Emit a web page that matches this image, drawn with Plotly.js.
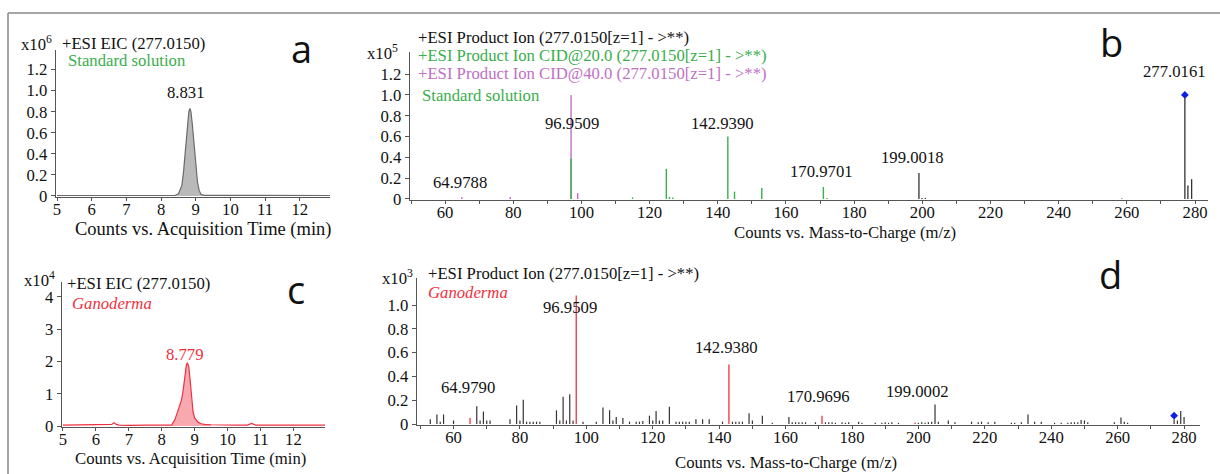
<!DOCTYPE html>
<html>
<head>
<meta charset="utf-8">
<script src="https://cdn.plot.ly/plotly-3.0.1.min.js"></script>
<style>html,body{margin:0;padding:0;background:#fff;}#chart{width:1220px;height:474px;}</style>
</head>
<body>
<div id="chart"></div>
<script>
// ---------- DATA ----------
// Panel a: EIC, standard solution (x10^6 counts)
const timeA = [5, 8.4, 8.5, 8.6, 8.65, 8.7, 8.75, 8.8, 8.831, 8.86, 8.9, 8.95, 9.0, 9.05, 9.1, 9.15, 9.25, 12.9];
const intA  = [0.004, 0.004, 0.02, 0.1, 0.24, 0.43, 0.64, 0.8, 0.83, 0.8, 0.68, 0.48, 0.27, 0.13, 0.05, 0.015, 0.005, 0.004];

// Panel c: EIC, Ganoderma (x10^4 counts)
const timeC = [5, 5.5, 6, 6.4, 6.48, 6.55, 6.62, 6.7, 7, 7.5, 8, 8.3, 8.4, 8.5, 8.6, 8.65, 8.7, 8.75, 8.779, 8.82, 8.86, 8.9, 8.95, 9.0, 9.05, 9.1, 9.2, 9.3, 9.5, 9.8, 10.3, 10.6, 10.73, 10.85, 11, 11.5, 12, 12.96];
const intC  = [0.03, 0.03, 0.035, 0.03, 0.05, 0.1, 0.05, 0.03, 0.02, 0.03, 0.03, 0.03, 0.2, 0.5, 0.8, 1.1, 1.55, 1.9, 1.96, 1.85, 1.45, 0.9, 0.45, 0.25, 0.17, 0.12, 0.07, 0.05, 0.04, 0.03, 0.03, 0.03, 0.08, 0.03, 0.03, 0.03, 0.03, 0.03];

// Panel b: product ion spectra, standard solution (x10^5 counts)
const mzB_cid40  = [64.9, 79.1, 96.9509, 98.9];
const intB_cid40 = [0.02, 0.02, 1.0, 0.055];
const mzB_cid20  = [96.9509, 115.0, 124.9, 125.8, 126.8, 142.939, 144.9, 152.9, 170.9701, 172.0];
const intB_cid20 = [0.39, 0.015, 0.29, 0.02, 0.015, 0.6, 0.07, 0.105, 0.115, 0.01];
const mzB_all    = [199.0018, 199.9, 200.9, 258.5, 277.0161, 277.9, 279.0];
const intB_all   = [0.25, 0.01, 0.01, 0.005, 1.0, 0.13, 0.19];
const precursorB = {mz: [277.0161], int: [1.0]};

// Panel d: product ion spectrum, Ganoderma (x10^3 counts)
const mzD_black  = [53, 55, 56, 57, 60, 67, 68, 69, 70, 71, 77, 79, 80, 81, 82, 83, 84, 85, 86, 91, 92, 93, 94, 95, 96, 99, 103, 105, 107, 108, 109, 111, 113, 115, 116, 117, 119, 120, 121, 122, 123, 125, 127, 128, 129, 130, 131, 133, 135, 137, 141, 144, 145, 146, 147, 149, 150, 153, 156,
                    161, 162, 163, 164, 165, 166, 169, 172, 173, 174, 175, 177, 178, 179, 182, 183, 187, 189, 190, 191, 192, 194, 200, 201, 202, 203, 204, 205, 206, 209, 211, 216, 218, 219, 221, 223, 228, 229, 231, 233, 235, 237, 241, 243, 245, 246, 247, 248, 249, 250, 251, 259, 261, 262, 263, 277, 278, 279, 280];
const intD_black = [0.04, 0.08, 0.02, 0.08, 0.03, 0.15, 0.03, 0.105, 0.03, 0.03, 0.04, 0.155, 0.03, 0.205, 0.02, 0.02, 0.02, 0.02, 0.02, 0.115, 0.03, 0.23, 0.03, 0.25, 0.03, 0.02, 0.02, 0.14, 0.115, 0.03, 0.06, 0.05, 0.02, 0.02, 0.02, 0.025, 0.07, 0.03, 0.11, 0.03, 0.03, 0.145, 0.02, 0.02, 0.02, 0.02, 0.02, 0.04, 0.04, 0.04, 0.02, 0.02, 0.02, 0.02, 0.02, 0.09, 0.03, 0.07, 0.01,
                    0.06, 0.015, 0.015, 0.015, 0.015, 0.015, 0.015, 0.015, 0.015, 0.015, 0.01, 0.015, 0.01, 0.015, 0.02, 0.01, 0.01, 0.01, 0.015, 0.01, 0.015, 0.01, 0.01, 0.015, 0.01, 0.015, 0.02, 0.165, 0.02, 0.03, 0.015, 0.02, 0.015, 0.02, 0.015, 0.02, 0.01, 0.01, 0.015, 0.08, 0.02, 0.02, 0.01, 0.01, 0.01, 0.015, 0.015, 0.015, 0.035, 0.03, 0.015, 0.015, 0.055, 0.02, 0.01, 0.04, 0.03, 0.11, 0.06];
const mzD_red    = [64.979, 96.9509, 142.938, 170.9696, 199.0002];
const intD_red   = [0.05, 1.08, 0.5, 0.07, 0.012];
const precursorD = {mz: [277.0], int: [0.07]};

// Tick labels
const timeTicks = [5, 6, 7, 8, 9, 10, 11, 12];
const timeTickText = ['5', '6', '7', '8', '9', '10', '11', '12'];
const mzTicks = [60, 80, 100, 120, 140, 160, 180, 200, 220, 240, 260, 280];
const mzTickText = ['60', '80', '100', '120', '140', '160', '180', '200', '220', '240', '260', '280'];
const mzMinorTicks = [50, 70, 90, 110, 130, 150, 170, 190, 210, 230, 250, 270];
const yTicksAB = [0, 0.2, 0.4, 0.6, 0.8, 1.0, 1.2];
const yTickTextAB = ['0', '0.2', '0.4', '0.6', '0.8', '1.0', '1.2'];
const yTicksC = [0, 1, 2, 3, 4];
const yTickTextC = ['0', '1', '2', '3', '4'];
const yTicksD = [0, 0.2, 0.4, 0.6, 0.8, 1.0];
const yTickTextD = ['0', '0.2', '0.4', '0.6', '0.8', '1.0'];

// ---------- STYLE / LAYOUT ----------
const W = 1220, H = 474;
const SERIF = 'Liberation Serif, Times New Roman, serif';
const SANS = 'Open Sans, Liberation Sans, sans-serif';
const FS = 16.7;
const GREEN = '#3aae4c', PURPLE = '#c070c6', RED = '#f03040';

function dx(a, b) { return [a / W, b / W]; }
function dy(top, bottom) { return [1 - bottom / H, 1 - top / H]; }

function sticks(mz, h) {
  const x = [], y = [];
  mz.forEach((m, i) => { x.push(m, m, null); y.push(0, h[i], null); });
  return {x, y};
}

const sB40 = sticks(mzB_cid40, intB_cid40);
const sB20 = sticks(mzB_cid20, intB_cid20);
const sBall = sticks(mzB_all, intB_all);
const sDb = sticks(mzD_black, intD_black);
const sDr = sticks(mzD_red, intD_red);

const fillIdx = timeC.map((t, i) => i).filter(i => timeC[i] >= 8.3 && timeC[i] <= 9.5);

const traces = [
  {x: timeA, y: intA, xaxis: 'x', yaxis: 'y', type: 'scatter', mode: 'lines', fill: 'tozeroy',
   fillcolor: '#b9b9b9', line: {color: '#6a6a6a', width: 1.2}},
  {x: sB40.x, y: sB40.y, xaxis: 'x2', yaxis: 'y2', type: 'scatter', mode: 'lines', line: {color: PURPLE, width: 1.4}},
  {x: sB20.x, y: sB20.y, xaxis: 'x2', yaxis: 'y2', type: 'scatter', mode: 'lines', line: {color: GREEN, width: 1.4}},
  {x: sBall.x, y: sBall.y, xaxis: 'x2', yaxis: 'y2', type: 'scatter', mode: 'lines', line: {color: '#333', width: 1.3}},
  {x: precursorB.mz, y: precursorB.int, xaxis: 'x2', yaxis: 'y2', type: 'scatter', mode: 'markers',
   marker: {symbol: 'diamond', color: '#1020e0', size: 6}},
  {x: fillIdx.map(i => timeC[i]), y: fillIdx.map(i => intC[i]), xaxis: 'x3', yaxis: 'y3', type: 'scatter', mode: 'none',
   fill: 'tozeroy', fillcolor: 'rgba(244,140,148,0.75)'},
  {x: timeC, y: intC, xaxis: 'x3', yaxis: 'y3', type: 'scatter', mode: 'lines', line: {color: RED, width: 1.2}},
  {x: sDb.x, y: sDb.y, xaxis: 'x4', yaxis: 'y4', type: 'scatter', mode: 'lines', line: {color: '#333', width: 1.2}},
  {x: sDr.x, y: sDr.y, xaxis: 'x4', yaxis: 'y4', type: 'scatter', mode: 'lines', line: {color: RED, width: 1.3}},
  {x: precursorD.mz, y: precursorD.int, xaxis: 'x4', yaxis: 'y4', type: 'scatter', mode: 'markers',
   marker: {symbol: 'diamond', color: '#1020e0', size: 6}}
];

function axis(extra) {
  return Object.assign({
    showline: true, linecolor: '#555', linewidth: 1.3, ticks: 'outside', ticklen: 4, tickwidth: 1,
    tickcolor: '#555', showgrid: false, zeroline: false, fixedrange: true,
    tickfont: {family: SERIF, size: FS, color: '#111'}, tickmode: 'array'
  }, extra);
}
function xaxisCfg(extra) {
  return axis(Object.assign({ticklen: 3, ticklabelstandoff: -6}, extra));
}

function txt(text, px, py, opts) {
  return Object.assign({
    text: text, x: px / W, y: 1 - py / H, xref: 'paper', yref: 'paper', showarrow: false,
    xanchor: 'left', yanchor: 'middle', font: {family: SERIF, size: FS, color: '#111'}
  }, opts || {});
}
function lbl(text, x, y, xa, ya, color) {
  return {text: text, x: x, y: y, xref: xa, yref: ya, showarrow: false, xanchor: 'center', yanchor: 'middle',
          font: {family: SERIF, size: FS, color: color || '#111'}};
}
function letter(t, px, py) {
  return txt(t, px, py, {xanchor: 'center', font: {family: SANS, size: 38, color: '#111'}});
}

const annotations = [
  // Panel a
  txt('x10<sup>6</sup>', 54, 44, {xanchor: 'right'}),
  txt('+ESI EIC (277.0150)', 60, 43),
  txt('Standard solution', 66, 61, {font: {family: SERIF, size: FS, color: GREEN}}),
  lbl('8.831', 8.73, 0.985, 'x', 'y'),
  txt('Counts vs. Acquisition Time (min)', 203, 229, {xanchor: 'center', font: {family: SERIF, size: 18.5, color: '#111'}}),
  letter('a', 301, 48),
  // Panel b
  txt('x10<sup>5</sup>', 400, 53, {xanchor: 'right'}),
  txt('+ESI Product Ion (277.0150[z=1] - >**)', 416, 37),
  txt('+ESI Product Ion CID@20.0 (277.0150[z=1] - >**)', 416, 55, {font: {family: SERIF, size: FS, color: GREEN}}),
  txt('+ESI Product Ion CID@40.0 (277.0150[z=1] - >**)', 416, 74, {font: {family: SERIF, size: FS, color: PURPLE}}),
  txt('Standard solution', 420, 96, {font: {family: SERIF, size: FS, color: GREEN}}),
  lbl('64.9788', 64.4, 0.16, 'x2', 'y2'),
  lbl('96.9509', 97.3, 0.73, 'x2', 'y2'),
  lbl('142.9390', 141.5, 0.73, 'x2', 'y2'),
  lbl('170.9701', 170.5, 0.26, 'x2', 'y2'),
  lbl('199.0018', 197.2, 0.40, 'x2', 'y2'),
  lbl('277.0161', 274.1, 1.23, 'x2', 'y2'),
  txt('Counts vs. Mass-to-Charge (m/z)', 845, 232, {xanchor: 'center'}),
  letter('b', 1111, 42),
  // Panel c
  txt('x10<sup>4</sup>', 57, 279, {xanchor: 'right'}),
  txt('+ESI EIC (277.0150)', 65, 283),
  txt('<i>Ganoderma</i>', 70, 303, {font: {family: SERIF, size: FS, color: RED}}),
  lbl('8.779', 8.72, 2.2, 'x3', 'y3', RED),
  txt('Counts vs. Acquisition Time (min)', 190, 458, {xanchor: 'center'}),
  letter('c', 296, 289),
  // Panel d
  txt('x10<sup>3</sup>', 415, 277, {xanchor: 'right'}),
  txt('+ESI Product Ion (277.0150[z=1] - >**)', 426, 273),
  txt('<i>Ganoderma</i>', 426, 292, {font: {family: SERIF, size: FS, color: RED}}),
  lbl('64.9790', 64.3, 0.31, 'x4', 'y4'),
  lbl('96.9509', 95.0, 0.98, 'x4', 'y4'),
  lbl('142.9380', 142.3, 0.64, 'x4', 'y4'),
  lbl('170.9696', 170.0, 0.235, 'x4', 'y4'),
  lbl('199.0002', 199.8, 0.27, 'x4', 'y4'),
  txt('Counts vs. Mass-to-Charge (m/z)', 786, 462, {xanchor: 'center'}),
  letter('d', 1110, 274)
];

const minorMz = {tickmode: 'array', tickvals: mzMinorTicks, ticks: 'outside', ticklen: 3, tickcolor: '#555', tickwidth: 1};

const layout = {
  width: W, height: H, margin: {l: 0, r: 0, t: 0, b: 0}, paper_bgcolor: '#fff', plot_bgcolor: 'rgba(0,0,0,0)',
  showlegend: false, hovermode: false,
  xaxis:  xaxisCfg({domain: dx(56, 330), range: [4.97, 12.87], anchor: 'y', tickvals: timeTicks, ticktext: timeTickText}),
  yaxis:  axis({domain: dy(50, 197), range: [-0.01, 1.385], anchor: 'x', tickvals: yTicksAB, ticktext: yTickTextAB}),
  xaxis2: xaxisCfg({domain: dx(410, 1208), range: [49.7, 283.8], anchor: 'y2', tickvals: mzTicks, ticktext: mzTickText, minor: minorMz}),
  yaxis2: axis({domain: dy(52, 200), range: [-0.01, 1.413], anchor: 'x2', tickvals: yTicksAB, ticktext: yTickTextAB}),
  xaxis3: xaxisCfg({domain: dx(62, 325), range: [4.97, 12.96], anchor: 'y3', tickvals: timeTicks, ticktext: timeTickText}),
  yaxis3: axis({domain: dy(282, 427), range: [-0.03, 4.46], anchor: 'x3', tickvals: yTicksC, ticktext: yTickTextC}),
  xaxis4: xaxisCfg({domain: dx(417, 1200), range: [49.0, 284.8], anchor: 'y4', tickvals: mzTicks, ticktext: mzTickText, minor: minorMz}),
  yaxis4: axis({domain: dy(278, 425), range: [-0.008, 1.227], anchor: 'x4', tickvals: yTicksD, ticktext: yTickTextD}),
  annotations: annotations,
  shapes: [
    {type: 'line', xref: 'paper', yref: 'paper', x0: 8 / W, x1: 1, y0: 1 - 13 / H, y1: 1 - 13 / H, line: {color: '#888', width: 1.5}},
    {type: 'line', xref: 'paper', yref: 'paper', x0: 8 / W, x1: 8 / W, y0: 0, y1: 1 - 13 / H, line: {color: '#888', width: 1.5}}
  ]
};

Plotly.newPlot('chart', traces, layout, {staticPlot: true, displayModeBar: false});
</script>
</body>
</html>
